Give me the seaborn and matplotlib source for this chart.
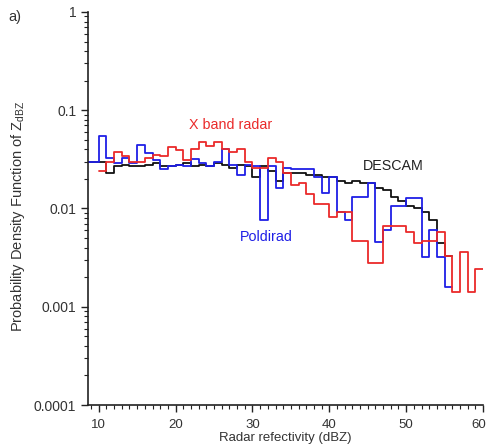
import numpy as np
import matplotlib
matplotlib.use("Agg")
import matplotlib.pyplot as plt
import matplotlib.transforms as mtransforms
from matplotlib.ticker import FixedLocator, FixedFormatter, MultipleLocator, LogLocator, NullFormatter
import seaborn as sns

# Histogram bins (1 dBZ wide), left edges and PDF values per bin
descam_start = 8
descam_pdf = [0.030, 0.030, 0.030, 0.023, 0.027, 0.028, 0.027, 0.027, 0.028, 0.029,
              0.027, 0.027, 0.028, 0.029, 0.027, 0.028, 0.027, 0.029, 0.028, 0.026,
              0.028, 0.027, 0.021, 0.027, 0.024, 0.019, 0.023, 0.023, 0.023, 0.022,
              0.022, 0.021, 0.021, 0.019, 0.018, 0.019, 0.018, 0.018, 0.016, 0.0155,
              0.0132, 0.012, 0.0105, 0.0101, 0.0093, 0.0077, 0.0045, 0.0033]

poldirad_start = 8
poldirad_pdf = [0.030, 0.030, 0.055, 0.033, 0.029, 0.033, 0.029, 0.044, 0.037, 0.031,
                0.025, 0.027, 0.028, 0.027, 0.032, 0.029, 0.027, 0.030, 0.040, 0.028,
                0.022, 0.028, 0.027, 0.0077, 0.027, 0.016, 0.026, 0.025, 0.025, 0.025,
                0.021, 0.0145, 0.021, 0.0093, 0.0077, 0.013, 0.013, 0.018, 0.0046, 0.0061,
                0.0105, 0.0105, 0.0127, 0.0127, 0.0032, 0.0061, 0.0032, 0.0016]

xband_start = 10
xband_pdf = [0.024, 0.030, 0.038, 0.034, 0.030, 0.030, 0.033, 0.035, 0.034, 0.042,
             0.039, 0.031, 0.040, 0.048, 0.043, 0.048, 0.040, 0.038, 0.040, 0.030,
             0.026, 0.026, 0.033, 0.030, 0.023, 0.0175, 0.018, 0.0139, 0.011, 0.011,
             0.0081, 0.0093, 0.0093, 0.0047, 0.0047, 0.0028, 0.0028, 0.0066, 0.0066, 0.0066,
             0.0057, 0.0045, 0.0047, 0.0047, 0.0057, 0.0033, 0.0014, 0.0036, 0.0014, 0.0024]

y_ticks = [0.0001, 0.001, 0.01, 0.1, 1]
y_tick_labels = ["0.0001", "0.001", "0.01", "0.1", "1"]
x_ticks = [10, 20, 30, 40, 50, 60]

sns.set_style("ticks")
plt.rcParams["font.family"] = ["Liberation Sans", "DejaVu Sans"]

fig = plt.figure(figsize=(4.88, 4.48), dpi=100)
ax = fig.add_axes([88 / 488, 1 - 405 / 448, (483 - 88) / 488, (405 - 12) / 448])


def step_series(start, values):
    edges = np.arange(start, start + len(values) + 1)
    heights = list(values) + [values[-1]]
    return edges, heights


for start, vals, col in [(descam_start, descam_pdf, "#111111"),
                         (poldirad_start, poldirad_pdf, "#1f1fe6"),
                         (xband_start, xband_pdf, "#ea2a2a")]:
    xs, ys = step_series(start, vals)
    sns.lineplot(x=xs, y=ys, drawstyle="steps-post", color=col, lw=1.3, ax=ax)

ax.set_yscale("log")
ax.set_ylim(1e-4, 1)
ax.set_xlim(8.6, 60)

ax.xaxis.set_major_locator(FixedLocator(x_ticks))
ax.xaxis.set_minor_locator(MultipleLocator(1))
ax.yaxis.set_major_locator(FixedLocator(y_ticks))
ax.yaxis.set_major_formatter(FixedFormatter(y_tick_labels))
ax.yaxis.set_minor_locator(LogLocator(base=10, subs=np.arange(2, 10)))
ax.yaxis.set_minor_formatter(NullFormatter())

ax.tick_params(axis="both", which="major", direction="out", length=5, width=1,
               colors="#222222", labelcolor="#333333")
ax.tick_params(axis="y", which="major", labelsize=10)
ax.tick_params(axis="x", which="major", labelsize=9.5, pad=5)
ax.tick_params(axis="both", which="minor", direction="out", length=3, width=0.8,
               colors="#222222")
sns.despine(ax=ax)
for s in ["left", "bottom"]:
    ax.spines[s].set_color("#222222")
    ax.spines[s].set_linewidth(1.2)

# keep the last x tick label inside the figure
fig.canvas.draw()
last = ax.get_xticklabels()[-1]
last.set_transform(last.get_transform() + mtransforms.ScaledTranslation(-4 / 100, 0, fig.dpi_scale_trans))

ax.set_xlabel("Radar refectivity (dBZ)", fontsize=9.5, color="#333333", labelpad=1)
ax.set_ylabel(r"Probability Density Function of Z$_{\mathregular{dBZ}}$",
              fontsize=10.5, color="#333333")
ax.yaxis.set_label_coords(-0.155, 0.48)

ax.text(27.1, 0.070, "X band radar", color="#ea2a2a", fontsize=10.3,
        ha="center", va="center")
ax.text(48.3, 0.0273, "DESCAM", color="#222222", fontsize=10.3,
        ha="center", va="center")
ax.text(31.8, 0.0051, "Poldirad", color="#1f1fe6", fontsize=10.3,
        ha="center", va="center")

fig.text(8 / 488, 1 - 17 / 448, "a)", fontsize=10.5, color="#333333",
         ha="left", va="center")

fig.savefig("out.png", dpi=100)
